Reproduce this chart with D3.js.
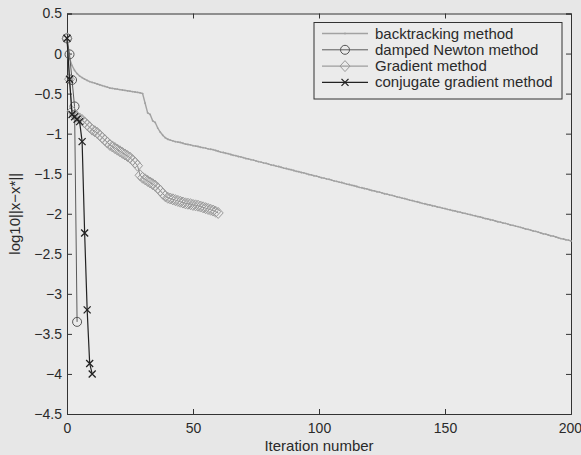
<!DOCTYPE html>
<meta charset="utf-8">
<html lang="en">
  <head>
    <script type="text/javascript" src="https://cdn.jsdelivr.net/npm/d3@7/dist/d3.min.js"></script>
    <style>
      body { margin: 0; background: #e7e7e7; }
      svg text { font-family: "Liberation Sans", Arial, Helvetica, sans-serif; fill: #2a2a2a; }
    </style>
  </head>

  <body>
    <div class='chart'></div>
  </body>

  <script>
    // values, one per iteration starting at 0
    const backtracking = [
      0.19, -0.06, -0.15, -0.21, -0.25, -0.28, -0.30, -0.32, -0.335, -0.35,
      -0.36, -0.37, -0.38, -0.39, -0.40, -0.41, -0.42, -0.43, -0.435, -0.44,
      -0.445, -0.45, -0.455, -0.46, -0.465, -0.47, -0.475, -0.48, -0.485, -0.49,
      -0.50, -0.62, -0.74, -0.76, -0.84, -0.86, -0.93, -0.98, -1.02, -1.05,
      -1.07, -1.08, -1.09, -1.10, -1.105, -1.11, -1.12, -1.13, -1.135, -1.14,
      -1.15, -1.155, -1.16, -1.17, -1.175, -1.18, -1.19, -1.195, -1.20, -1.21,
      -1.22, -1.23, -1.235, -1.245, -1.25, -1.26, -1.27, -1.275, -1.285, -1.29,
      -1.30, -1.31, -1.315, -1.325, -1.33, -1.34, -1.35, -1.355, -1.365, -1.37,
      -1.38, -1.39, -1.395, -1.405, -1.41, -1.42, -1.43, -1.435, -1.445, -1.45,
      -1.46, -1.47, -1.475, -1.485, -1.49, -1.50, -1.51, -1.515, -1.525, -1.53,
      -1.54, -1.55, -1.555, -1.565, -1.57, -1.58, -1.59, -1.595, -1.605, -1.61,
      -1.62, -1.63, -1.635, -1.645, -1.65, -1.66, -1.67, -1.675, -1.685, -1.69,
      -1.70, -1.71, -1.715, -1.725, -1.73, -1.74, -1.75, -1.755, -1.765, -1.77,
      -1.78, -1.79, -1.795, -1.805, -1.81, -1.82, -1.83, -1.835, -1.845, -1.85,
      -1.86, -1.87, -1.875, -1.885, -1.89, -1.90, -1.905, -1.915, -1.92, -1.93,
      -1.935, -1.945, -1.95, -1.96, -1.965, -1.975, -1.98, -1.99, -1.995, -2.005,
      -2.01, -2.02, -2.025, -2.035, -2.04, -2.05, -2.06, -2.065, -2.075, -2.08,
      -2.09, -2.10, -2.105, -2.115, -2.12, -2.13, -2.14, -2.145, -2.155, -2.16,
      -2.17, -2.18, -2.19, -2.195, -2.205, -2.215, -2.22, -2.23, -2.24, -2.25,
      -2.255, -2.265, -2.275, -2.28, -2.29, -2.30, -2.31, -2.315, -2.325, -2.33,
      -2.34
    ]
    const dampedNewton = [0.19, -0.01, -0.33, -0.66, -3.35]
    const gradient = [
      0.19, -0.32, -0.72, -0.77, -0.79, -0.81, -0.83, -0.86, -0.89, -0.92,
      -0.95, -0.97, -0.99, -1.02, -1.05, -1.08, -1.11, -1.14, -1.16, -1.18,
      -1.20, -1.22, -1.24, -1.26, -1.28, -1.30, -1.33, -1.36, -1.40, -1.52,
      -1.55, -1.57, -1.59, -1.61, -1.63, -1.65, -1.68, -1.71, -1.75, -1.78,
      -1.80, -1.81, -1.82, -1.83, -1.84, -1.85, -1.86, -1.87, -1.875, -1.88,
      -1.89, -1.895, -1.90, -1.91, -1.92, -1.93, -1.94, -1.95, -1.96, -1.975,
      -1.99
    ]
    const conjugate = [0.19, -0.32, -0.76, -0.79, -0.82, -0.85, -1.10, -2.24, -3.20, -3.87, -4.00]

    const seriesNames = ['backtracking method', 'damped Newton method', 'Gradient method', 'conjugate gradient method']
    const xTicks = [0, 50, 100, 150, 200]
    const yTicks = [0.5, 0, -0.5, -1, -1.5, -2, -2.5, -3, -3.5, -4, -4.5]

    const W = 581, H = 455
    const plotL = 67, plotR = 571, plotT = 13.5, plotB = 414

    const x = d3.scaleLinear().domain([0, 200]).range([plotL, plotR])
    const y = d3.scaleLinear().domain([-4.5, 0.5]).range([plotB, plotT])

    const svg = d3.select('.chart').append('svg')
      .attr('width', W).attr('height', H)

    svg.append('rect').attr('x', plotL).attr('y', plotT)
      .attr('width', plotR - plotL).attr('height', plotB - plotT)
      .attr('fill', '#ebebeb')

    const fmt = d => (d < 0 ? '\u2212' : '') + Math.abs(d)

    // axes, matlab style: ticks inward, on all four sides
    const xAxis = svg.append('g').attr('transform', `translate(0,${plotB})`)
      .call(d3.axisBottom(x).tickValues(xTicks).tickSize(-5).tickPadding(9).tickFormat(fmt))
    svg.append('g').attr('transform', `translate(0,${plotT})`)
      .call(d3.axisTop(x).tickValues(xTicks).tickSize(-5).tickFormat(''))
    svg.append('g').attr('transform', `translate(${plotL},0)`)
      .call(d3.axisLeft(y).tickValues(yTicks).tickSize(-5).tickPadding(5).tickFormat(fmt))
    svg.append('g').attr('transform', `translate(${plotR},0)`)
      .call(d3.axisRight(y).tickValues(yTicks).tickSize(-5).tickFormat(''))

    svg.selectAll('.domain').attr('stroke', '#333')
    svg.selectAll('.tick line').attr('stroke', '#333')
    svg.selectAll('.tick text').attr('font-size', 14).attr('fill', '#2a2a2a')
      .attr('font-family', '"Liberation Sans", Arial, sans-serif')
    // last label sits on the page edge, keep it inside
    xAxis.selectAll('.tick text').filter(d => d == 200)
      .attr('text-anchor', 'end').attr('dx', '0.75em')

    svg.append('text').attr('x', (plotL + plotR) / 2).attr('y', 451)
      .attr('text-anchor', 'middle').attr('font-size', 15)
      .text('Iteration number')
    svg.append('text')
      .attr('transform', `translate(20,${(plotT + plotB) / 2}) rotate(-90)`)
      .attr('text-anchor', 'middle').attr('font-size', 15)
      .text('log10||x\u2212x*||')

    const line = d3.line().x((d, i) => x(i)).y(d => y(d))

    function marker(g, type, color) {
      if (type == 'circle') {
        g.append('circle').attr('r', 4.5).attr('fill', 'none').attr('stroke', color)
      } else if (type == 'diamond') {
        g.append('path').attr('d', 'M0,-5.5L5,0L0,5.5L-5,0Z').attr('fill', 'none').attr('stroke', color)
      } else if (type == 'x') {
        g.append('path').attr('d', 'M-3.5,-3.5L3.5,3.5M-3.5,3.5L3.5,-3.5').attr('stroke', color).attr('stroke-width', 1.3)
      } else {
        g.append('circle').attr('r', 0.9).attr('fill', color)
      }
    }

    const series = [
      { values: backtracking, line: '#a2a2a2', mark: '#a2a2a2', type: 'dot', w: 1.4 },
      { values: dampedNewton, line: '#5a5a5a', mark: '#555', type: 'circle', w: 1 },
      { values: gradient, line: '#8a8a8a', mark: '#9a9a9a', type: 'diamond', w: 1 },
      { values: conjugate, line: '#222', mark: '#222', type: 'x', w: 1.2 }
    ]

    series.forEach(function(s) {
      svg.append('path').datum(s.values)
        .attr('d', line).attr('fill', 'none')
        .attr('stroke', s.line).attr('stroke-width', s.w)
      svg.append('g').selectAll('g').data(s.values).enter()
        .append('g').attr('transform', (d, i) => `translate(${x(i)},${y(d)})`)
        .each(function() { marker(d3.select(this), s.type, s.mark) })
    })

    // legend
    const lg = svg.append('g')
    lg.append('rect').attr('x', 314).attr('y', 22.5).attr('width', 248).attr('height', 76.5)
      .attr('fill', '#ebebeb').attr('stroke', '#333')
    series.forEach(function(s, i) {
      const cy = 33.5 + i * 16.3
      lg.append('line').attr('x1', 322).attr('x2', 368).attr('y1', cy).attr('y2', cy)
        .attr('stroke', s.line).attr('stroke-width', s.w)
      const m = lg.append('g').attr('transform', `translate(345,${cy})`)
      marker(m, s.type, s.mark)
      lg.append('text').attr('x', 375).attr('y', cy + 5)
        .attr('font-size', 15).text(seriesNames[i])
    })
  </script>
</html>
